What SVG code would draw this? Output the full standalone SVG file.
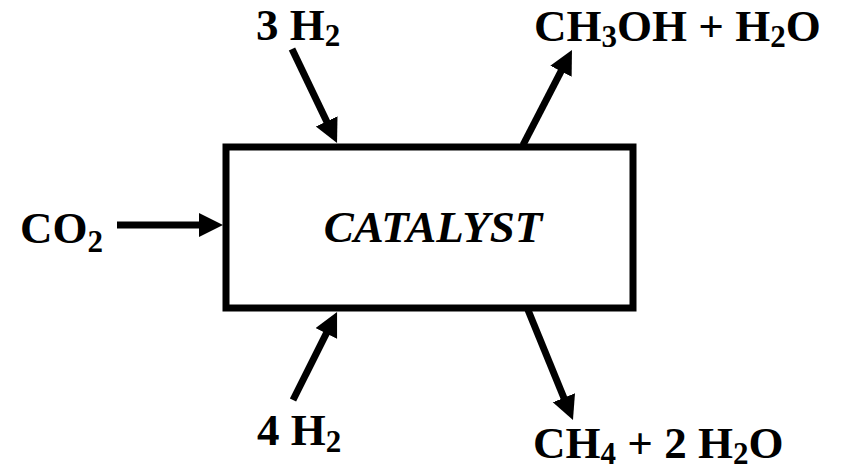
<svg xmlns="http://www.w3.org/2000/svg" width="842" height="470" viewBox="0 0 842 470">
<style>
.lbl{font-family:"Liberation Serif","Times New Roman",Tinos,serif;font-weight:bold;font-size:45px;fill:#000}
.sub{font-size:31px}
.conn{stroke:#000;stroke-width:7;fill:none}
</style>
<defs>
<marker id="ah" markerUnits="userSpaceOnUse" markerWidth="26" markerHeight="26" refX="4" refY="12" orient="auto" viewBox="0 0 26 26">
<path d="M0,0 L24,12 L0,24 Z" fill="#000"/>
</marker>
</defs>
<rect width="842" height="470" fill="#fff"/>
<g id="catalyst">
<rect x="226" y="147" width="407" height="161" fill="#fff" stroke="#000" stroke-width="7"/>
<text class="lbl" x="433" y="242" text-anchor="middle" font-style="italic" font-size="44">CATALYST</text>
</g>
<g id="h2-top"><text class="lbl" x="256" y="40">3 H<tspan class="sub" dy="6">2</tspan></text></g>
<g id="methanol"><text class="lbl" x="534" y="41">CH<tspan class="sub" dy="6">3</tspan><tspan dy="-6">OH + H</tspan><tspan class="sub" dy="6">2</tspan><tspan dy="-6">O</tspan></text></g>
<g id="co2"><text class="lbl" x="20" y="243">CO<tspan class="sub" dy="9">2</tspan></text></g>
<g id="h2-bottom"><text class="lbl" x="257" y="445">4 H<tspan class="sub" dy="7">2</tspan></text></g>
<g id="methane"><text class="lbl" x="533" y="458">CH<tspan class="sub" dy="6">4</tspan><tspan dy="-6"> + 2 H</tspan><tspan class="sub" dy="6">2</tspan><tspan dy="-6">O</tspan></text></g>
<g id="connectors">
<line class="conn" x1="292" y1="49" x2="328.4" y2="125" marker-end="url(#ah)"/>
<line class="conn" x1="523" y1="145" x2="562.8" y2="67.8" marker-end="url(#ah)"/>
<line class="conn" x1="117" y1="225" x2="203" y2="225" marker-end="url(#ah)"/>
<line class="conn" x1="293" y1="400" x2="328.1" y2="329.9" marker-end="url(#ah)"/>
<line class="conn" x1="528" y1="310" x2="565.4" y2="401.5" marker-end="url(#ah)"/>
</g>
</svg>
